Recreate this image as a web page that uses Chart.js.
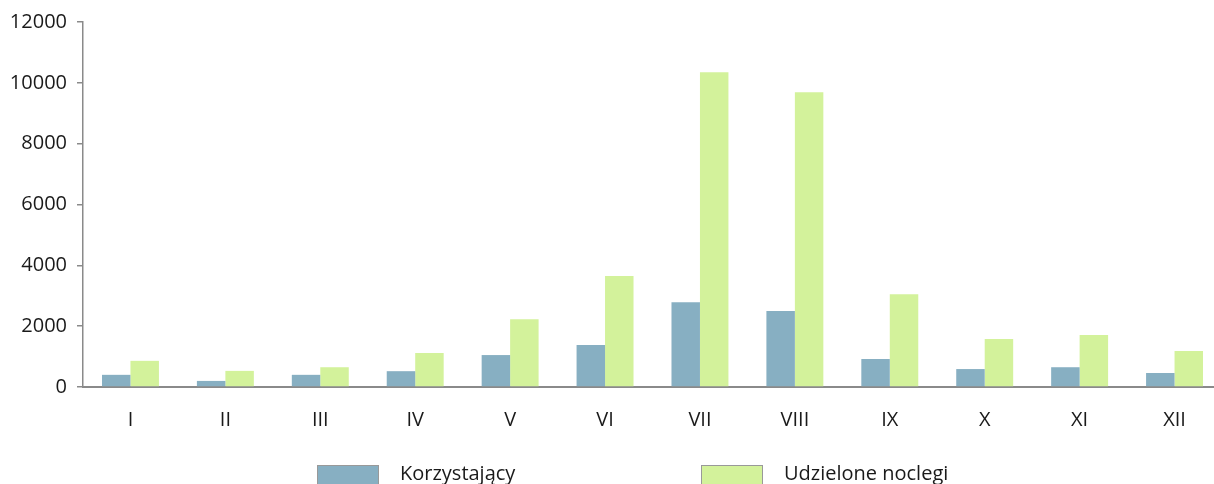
<!DOCTYPE html>
<html>
<head>
<meta charset="utf-8">
<script src="https://cdn.jsdelivr.net/npm/chart.js@4/dist/chart.umd.min.js"></script>
<style>
  html, body { margin: 0; padding: 0; background: #fff; overflow: hidden; }
  #wrap { position: absolute; left: 0; top: 0; width: 1222px; height: 484px; }
  #legend { position: absolute; left: 0; top: 461px; width: 1214px; height: 30px;
            font: 20px 'Open Sans'; line-height: 24px; color: #1a1a1a; }
  .item { position: absolute; top: 0; white-space: nowrap; }
  .box { position: absolute; top: 4px; left: 0; width: 60px; height: 22px; border: 1px solid #999; }
  .txt { position: absolute; top: 0; left: 83px; }
</style>
</head>
<body>
<div id="wrap"><canvas id="chart"></canvas></div>
<div id="legend"></div>
<script>
const months = ['I', 'II', 'III', 'IV', 'V', 'VI', 'VII', 'VIII', 'IX', 'X', 'XI', 'XII']
const korzystajacy = [400, 200, 400, 520, 1050, 1380, 2790, 2500, 920, 590, 650, 460]
const noclegi = [860, 530, 650, 1120, 2230, 3650, 10350, 9690, 3050, 1580, 1710, 1180]
const yTicks = [0, 2000, 4000, 6000, 8000, 10000, 12000]

const axisGray = '#8a8a8a'
const font = { family: 'Open Sans', size: 20 }

const ctx = document.getElementById('chart').getContext('2d')
const chart = new Chart(ctx, {
  type: 'bar',
  data: {
    labels: months,
    datasets: [
      { label: 'Korzystający', data: korzystajacy, backgroundColor: '#87afc2', borderWidth: 0 },
      { label: 'Udzielone noclegi', data: noclegi, backgroundColor: '#d3f29b', borderWidth: 0 }
    ]
  },
  options: {
    responsive: true,
    maintainAspectRatio: false,
    animation: false,
    layout: { padding: { top: 9, right: 0, left: 0, bottom: 39 } },
    datasets: { bar: { categoryPercentage: 0.6, barPercentage: 1 } },
    scales: {
      x: {
        grid: { display: false },
        border: { display: true, color: axisGray, width: 2 },
        ticks: { color: '#1a1a1a', font, padding: 13, maxRotation: 0 }
      },
      y: {
        min: 0,
        max: 12000,
        afterFit(scale) { scale.width = 83 },
        afterBuildTicks(scale) { scale.ticks = yTicks.map(v => ({ value: v })) },
        grid: { drawOnChartArea: false, drawTicks: true, tickLength: 6, color: axisGray, lineWidth: 1.5 },
        border: { display: true, color: axisGray, width: 1.5 },
        ticks: { color: '#1a1a1a', font, padding: 10, callback: v => String(v) }
      }
    },
    plugins: {
      tooltip: { enabled: false },
      legend: { display: false }
    }
  }
})

// legenda pod wykresem, jak w oryginale (duże odstępy między pozycjami)
const legendX = [317, 701]
const legendEl = document.getElementById('legend')
chart.data.datasets.forEach((ds, i) => {
  const item = document.createElement('div')
  item.className = 'item'
  item.style.left = legendX[i] + 'px'
  const box = document.createElement('div')
  box.className = 'box'
  box.style.background = ds.backgroundColor
  const txt = document.createElement('span')
  txt.className = 'txt'
  txt.textContent = ds.label
  item.appendChild(box)
  item.appendChild(txt)
  legendEl.appendChild(item)
})
</script>
</body>
</html>
